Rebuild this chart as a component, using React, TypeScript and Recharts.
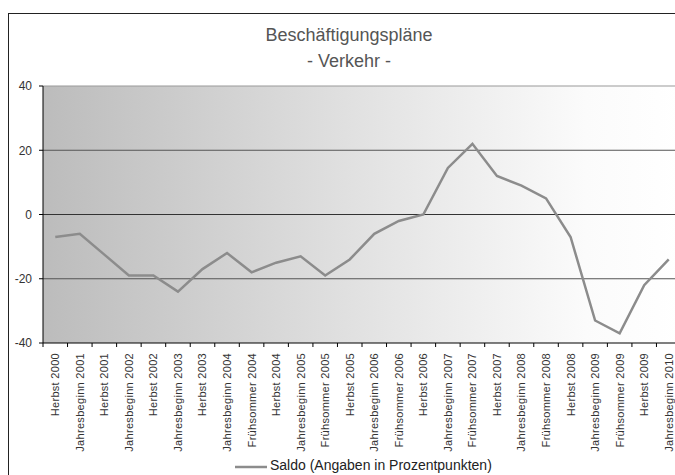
import React from "react";
import { LineChart, Line, XAxis, YAxis, CartesianGrid, ReferenceLine, Legend } from "recharts";

const categories = [
  "Herbst 2000", "Jahresbeginn 2001", "Herbst 2001", "Jahresbeginn 2002", "Herbst 2002",
  "Jahresbeginn 2003", "Herbst 2003", "Jahresbeginn 2004", "Frühsommer 2004", "Herbst 2004",
  "Jahresbeginn 2005", "Frühsommer 2005", "Herbst 2005", "Jahresbeginn 2006", "Frühsommer 2006",
  "Herbst 2006", "Jahresbeginn 2007", "Frühsommer 2007", "Herbst 2007", "Jahresbeginn 2008",
  "Frühsommer 2008", "Herbst 2008", "Jahresbeginn 2009", "Frühsommer 2009", "Herbst 2009",
  "Jahresbeginn 2010",
];
const saldo = [-7, -6, -12.5, -19, -19, -24, -17, -12, -18, -15, -13, -19, -14, -6, -2, 0, 14.5, 22, 12, 9, 5, -7, -33, -37, -22, -14];
const yTicks = [-40, -20, 0, 20, 40];
const seriesName = "Saldo (Angaben in Prozentpunkten)";
const titleLine1 = "Beschäftigungspläne";
const titleLine2 = "- Verkehr -";

const data = categories.map((c, i) => ({ pos: i + 0.5, label: c, saldo: saldo[i] }));
const xTicks = Array.from({ length: categories.length + 1 }, (_, i) => i);

const CHART_W = 700;
const CHART_H = 475;
const MARGIN = { top: 86, right: 19, left: 0, bottom: 0 };
const YAXIS_W = 43;
const PLOT_W = CHART_W - MARGIN.left - MARGIN.right - YAXIS_W;
const HALF_BAND = PLOT_W / categories.length / 2;

const FONT = "'Liberation Sans', Arial, sans-serif";

const XTick = (props: any) => {
  const { x, y, payload } = props;
  const idx = payload.value;
  if (idx >= categories.length) return <g />;
  const cx = x + HALF_BAND;
  return (
    <text
      x={0}
      y={0}
      transform={`translate(${cx},${y}) rotate(-90)`}
      textAnchor="end"
      dy="0.36em"
      fontSize={11}
      fill="#333"
      letterSpacing={0.3}
      fontFamily={FONT}
    >
      {categories[idx]}
    </text>
  );
};

const LegendContent = (props: any) => {
  const item = props.payload && props.payload[0];
  const color = item ? item.color : "#8c8c8c";
  const text = item ? item.value : seriesName;
  return (
    <svg width={CHART_W} height={20} style={{ display: "block" }}>
      <line x1={235} x2={267} y1={12} y2={12} stroke={color} strokeWidth={2.5} />
      <text x={270} y={15} fontSize={14} fill="#222" fontFamily={FONT}>
        {text}
      </text>
    </svg>
  );
};

export default function App() {
  return (
    <div
      style={{
        position: "absolute",
        left: 0,
        top: 0,
        width: 675,
        height: 475,
        overflow: "hidden",
        background: "#fff",
        fontFamily: FONT,
      }}
    >
      <div
        style={{
          position: "absolute",
          left: 8,
          top: 13,
          width: 720,
          height: 520,
          border: "1px solid #222",
        }}
      />
      <div
        style={{
          position: "absolute",
          left: 0,
          top: 26,
          width: 698,
          textAlign: "center",
          fontSize: 18,
          lineHeight: "18px",
          color: "#555",
        }}
      >
        {titleLine1}
      </div>
      <div
        style={{
          position: "absolute",
          left: 0,
          top: 52,
          width: 698,
          textAlign: "center",
          fontSize: 18,
          lineHeight: "18px",
          color: "#555",
        }}
      >
        {titleLine2}
      </div>
      <div style={{ position: "absolute", left: 0, top: 0 }}>
        <LineChart width={CHART_W} height={CHART_H} data={data} margin={MARGIN}>
          <defs>
            <linearGradient id="plotBg" x1="0" y1="0" x2="1" y2="0">
              <stop offset="0%" stopColor="#bcbcbc" />
              <stop offset="50%" stopColor="#e2e2e2" />
              <stop offset="85%" stopColor="#fbfbfb" />
              <stop offset="100%" stopColor="#ffffff" />
            </linearGradient>
          </defs>
          <CartesianGrid horizontal={false} vertical={false} fill="url(#plotBg)" stroke="none" />
          <XAxis
            dataKey="pos"
            type="number"
            domain={[0, categories.length]}
            ticks={xTicks}
            interval={0}
            allowDataOverflow
            height={132}
            tickSize={4}
            tickMargin={6}
            axisLine={{ stroke: "#000" }}
            tickLine={{ stroke: "#000" }}
            tick={<XTick />}
          />
          <YAxis
            type="number"
            domain={[-40, 40]}
            ticks={yTicks}
            interval={0}
            width={YAXIS_W}
            tickSize={4}
            tickMargin={7}
            axisLine={{ stroke: "#000" }}
            tickLine={{ stroke: "#000" }}
            tick={{ fontSize: 12, fill: "#333", fontFamily: FONT }}
          />
          <ReferenceLine y={40} stroke="#999" />
          <ReferenceLine y={20} stroke="#555" />
          <ReferenceLine y={-20} stroke="#555" />
          <ReferenceLine y={0} stroke="#333" />
          <Line
            type="linear"
            dataKey="saldo"
            name={seriesName}
            stroke="#8c8c8c"
            strokeWidth={2.5}
            dot={false}
            isAnimationActive={false}
          />
          <Legend
            layout="horizontal"
            verticalAlign="middle"
            align="center"
            wrapperStyle={{ left: 0, top: 455, width: CHART_W, height: 20 }}
            content={<LegendContent />}
          />
        </LineChart>
      </div>
    </div>
  );
}
